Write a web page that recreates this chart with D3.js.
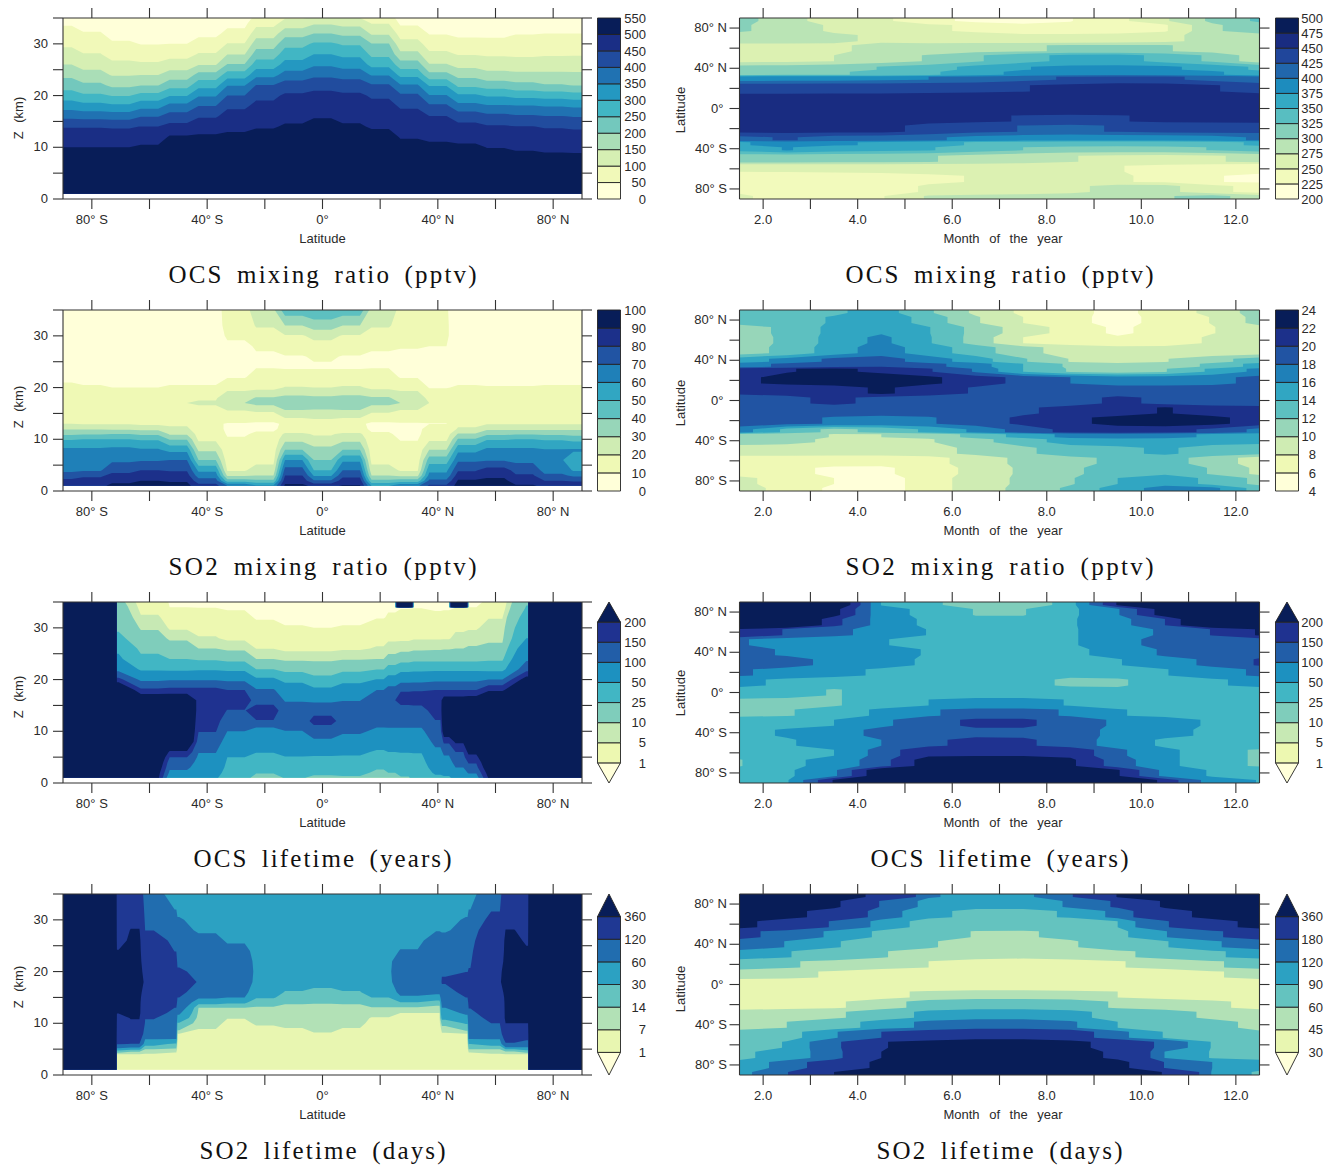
<!DOCTYPE html>
<html><head><meta charset="utf-8">
<script src="https://cdn.jsdelivr.net/npm/d3@7"></script>
<style>
body{margin:0;background:#fff}
text{font-family:"Liberation Sans",sans-serif;font-size:13px;fill:#2a2a2a}
.tick text{font-family:"Liberation Sans",sans-serif;font-size:13px;fill:#2a2a2a}
.tick line,.domain{stroke:#333;stroke-width:1.1}
.title{font-family:"Liberation Serif",serif;font-size:25px;fill:#111;word-spacing:5px}
</style></head><body><svg id="c" width="1332" height="1165"></svg>
<script>
const brewer=["#ffffd9","#edf8b1","#c7e9b4","#7fcdbb","#41b6c4","#1d91c0","#225ea8","#1f3290","#081d58"];

const levelsOcsZ=[0,50,100,150,200,250,300,350,400,450,500,550];
const levelsOcsM=[200,225,250,275,300,325,350,375,400,425,450,475,500];
const levelsSo2Z=[0,10,20,30,40,50,60,70,80,90,100];
const levelsSo2M=[4,6,8,10,12,14,16,18,20,22,24];
const levelsOcsLife=[1,5,10,25,50,100,150,200];
const levelsSo2LifeZ=[1,7,14,30,60,120,360];
const levelsSo2LifeM=[30,45,60,90,120,180,360];

const monthCols=[1.5,2.5,3.5,4.5,5.5,6.5,7.5,8.5,9.5,10.5,11.5,12.5];
const latRows21=[90,80,70,60,50,40,35,30,20,10,0,-10,-20,-30,-35,-40,-50,-60,-70,-80,-90];
const latRows19=[90,80,70,60,50,40,30,20,10,0,-10,-20,-30,-40,-50,-60,-70,-80,-90];

const latsOcsZ=[-90,-80,-70,-60,-50,-40,-30,-20,-10,0,10,20,30,40,50,60,70,80,90];
const zOcsZ=[1,8,10,12,14,16,18,20,22,24,26,28,30,32,34,35];
const ocsMixZ=[
[540,515,500,474,447,385,328,274,228,188,150,119,91,67,44,33],
[540,515,500,473,447,380,319,259,210,167,132,102,77,54,30,20],
[540,515,500,473,445,377,310,247,189,146,111,82,57,33,15,8],
[540,520,507,479,451,397,333,267,198,150,108,76,48,30,15,8],
[545,530,520,505,466,421,366,297,231,172,122,82,50,30,15,8],
[545,530,520,508,477,445,400,345,281,219,146,104,67,40,20,12],
[545,535,525,512,487,467,442,400,347,275,203,148,102,62,38,28],
[548,540,530,518,496,479,462,439,402,334,275,224,176,129,83,63],
[548,542,535,522,505,488,474,458,424,372,318,276,234,180,122,96],
[548,545,535,525,513,497,480,462,436,388,342,300,258,200,143,107],
[548,542,535,522,505,489,474,458,429,379,330,288,244,187,133,100],
[548,538,528,517,495,479,463,444,406,346,283,237,202,143,98,74],
[545,525,515,497,480,464,445,409,355,286,223,163,117,79,42,30],
[545,522,510,491,471,451,409,353,295,217,153,110,77,47,25,15],
[545,520,508,486,464,428,367,308,239,183,133,97,66,40,20,12],
[540,512,499,473,455,414,356,294,227,166,125,94,65,40,20,12],
[540,510,495,473,451,407,353,284,215,162,121,92,68,48,25,15],
[540,508,492,470,446,402,347,279,204,162,122,95,72,50,28,18],
[540,507,491,469,443,397,341,271,198,161,122,96,72,50,28,18]];

const ocsMixM=[
[310,285,262,255,235,217,212,224,243,272,305,330],
[305,285,272,262,254,246,232,230,235,247,296,314],
[284,284,278,272,265,260,257,257,259,268,285,290],
[268,268,272,280,285,292,298,302,303,302,290,285],
[268,270,275,288,302,322,340,358,360,342,320,285],
[310,312,316,326,338,358,374,380,381,380,366,345],
[322,323,324,327,345,365,382,392,396,392,380,360],
[390,392,393,396,400,408,418,428,433,430,418,405],
[438,438,440,441,443,445,449,456,460,460,452,440],
[458,458,459,459,460,462,465,470,472,472,468,462],
[462,462,462,462,462,464,466,470,472,472,468,463],
[458,458,458,457,456,453,449,446,449,453,456,457],
[457,457,456,456,444,432,424,420,427,432,433,432],
[418,428,415,412,405,392,385,382,382,384,390,404],
[372,385,378,372,362,346,338,335,335,335,340,355],
[358,377,362,358,352,338,325,318,316,318,326,340],
[312,310,308,306,302,292,284,276,270,268,273,280],
[250,251,252,253,254,256,258,256,251,244,234,228],
[235,236,238,242,247,251,253,253,252,246,226,222],
[247,236,235,243,252,258,263,268,285,283,258,240],
[254,240,238,248,278,283,285,288,292,298,308,287]];

const zSo2Z=[1,2,3,4,6,8,10,11,12,13,15,17,18,20,22,24,26,28,30,32,35];
const so2MixZ=[
[88,83,74,68,65,62,49,38,29,20,18,16,15,12,8,6,5,5,5,5,5],
[88,84,78,69,66,62,50,39,29,19,17,15,13,11,7,5,4,4,4,4,4],
[92,88,83,77,68,63,50,40,28,19,17,15,13,10,7,5,4,4,4,4,4],
[94,90,85,80,69,61,49,38,27,18,16,14,13,10,7,5,4,4,4,4,4],
[93,89,84,79,70,57,39,29,22,18,15,20,15,11,7,5,4,4,4,4,4],
[84,74,65,58,40,28,18,16,14,11,16,21,19,11,7,5,4,4,5,6,6],
[70,45,28,19,15,13,11,9,8,9.5,16,30,26,17,9.5,6,6,8,11.5,13,14],
[62,42,30,24,17,15,13,11.5,8.5,8.5,18,33,31,17,13,9.5,9,11,16,21,28],
[92,86,80,74,60,40,27,22,13,11.5,27,36,33,20.5,14,9,9.5,14,19,30,46],
[88,71,59,50,40,33,23,19,16,14,27,35,32,20,14,9,11,16,23,35,48],
[91,85,77,70,58,40,27,22,13,11.5,27,36,33,21,14,9,9.5,14,19,30,46],
[60,42,30,24,17,15,13,11,8.5,8.5,19,33,31,18,13,9.5,9,11,16,21,26],
[68,44,28,19,15,13,9.5,8,8,9.5,15,30,26,17,9.5,6,7,11,15,16,17],
[82,72,63,58,45,30,18,15,13,9.8,14,20,17,9.5,6,5,6,10,11.5,11.5,11],
[94,91,85,79,68,57,41,31,21,18,15,20,15,11,7,5,4,4,4,4,4],
[96,92,88,84,69,62,49,38,28,19,16,14,13,10.5,7,5,4,4,4,4,4],
[91,86,81,77,67,62,50,39,28,19,17,15,14,10.5,7,5,4,4,4,4,4],
[88,80,72,66,60.5,60.5,49,38,28,19,17,15,14,11,7,5,4,4,4,4,4],
[85,79,68,59,56,61,47,37,28,19,17,15,14,11,7,5,4,4,4,4,4]];

const so2MixM=[
[13,13.2,13.6,15,12.3,9.6,7.6,6.6,5.4,6.8,8.6,11],
[12.8,13.1,14.2,15.4,13.2,10.2,8,6.5,5.4,6.6,8.1,10.8],
[11,12.5,14.6,15.8,14.1,11.3,9,7.2,5.6,6.8,7.9,9.4],
[11,12.4,14.8,16.5,14.2,11.2,8,7,6.2,6.6,8.4,9.2],
[11,12.6,15,17,15,13,10.6,9.2,8.6,8.6,8.8,9],
[15,16.6,18.5,19,17,15,12.2,9.9,9.4,9.9,11.2,13],
[17,18.5,19.8,20,18.6,17,14,11.6,10.5,10.6,12.5,14.8],
[21,21.9,22.4,21.6,20.2,17.8,14,11.8,11,11.9,14.4,16.6],
[21.5,22.6,23,23.2,22.4,21,19.4,18,17,17,17.4,18.6],
[20.4,20.6,21,22.4,21,19.8,19,19,19,19,19,19],
[19,19.5,20.5,19.4,19,19,19,19.2,20.4,19.6,19,19],
[19,19,18.8,18.7,18.8,19,19.7,20.6,21,22.2,21,20.6],
[19,18.6,17.8,17.4,17.8,19,20.4,21.5,22.6,23,22.6,21],
[17,13.5,11.4,12.6,14.4,16.4,19,20.6,21,20.8,19.6,17.4],
[11.5,10.8,9.9,10,10.8,12.6,14.8,16.6,17,16.8,15.6,15],
[11,10.6,9.6,9.6,9.8,11.4,13,15,15.4,15.2,15,14.8],
[9,9,9,9,9.4,10.4,11.6,13,13.5,14.4,13,12.4],
[7,7,6.8,6.6,7.2,9,10.5,11.5,12.4,12.8,11.2,9],
[7,6.6,5.6,5.6,7,8.6,10.4,11.4,13.5,13.6,11.8,9.5],
[8.6,7,6,5,7,9,10.4,11.8,14,15.4,13.4,11.5],
[9,7.2,5.6,5,7,9,10.6,12.4,15,16.8,16.6,13]];

const latsOcsLife=[-90,-72,-71,-60,-50,-40,-30,-20,-10,0,10,20,24,28.5,33,40,43,47.5,52,60,71,72,90];
const zOcsLife=[1,2,3,4,5,6,8,10,12,14,16,18,20,22,24,26,28,30,32,33.9,34,35];
const ocsLifeZ=[
[999,999,999,999,999,999,999,999,999,999,999,999,999,999,999,999,999,999,999,999,999,999],
[999,999,999,999,999,999,999,999,999,999,999,999,999,999,999,999,999,999,999,999,999,999],
[300,300,300,300,300,300,300,300,300,300,300,300,165,85,55,45,30,22,18,15,15,13],
[210,220,240,260,280,300,300,300,300,300,260,160,90,45,29,21,14,9,5.6,3.5,3.4,2.5],
[60,90,110,125,150,190,300,300,300,300,260,165,95,42,25,15,8.5,4.2,2.8,1.1,1,0.8],
[55,65,75,85,92,102,125,152,165,175,185,165,95,45,22,10,5.3,3.7,2.2,1,0.95,0.8],
[30,36,41,45,50,58,77,100,125,148,170,150,90,42,19,8,4.2,2.9,1.6,0.8,0.8,0.6],
[20,26,32,38,44,51,60,72,148,170,135,105,55,25,10,4.9,3.2,1.7,0.8,0.6,0.6,0.5],
[26,33,39,44,49,57,76,99,118,125,96,68,42,19,8,4,2.8,1.1,0.7,0.5,0.5,0.4],
[22,28,35,42,48,58,92,120,170,130,92,56,30,17,8,4,2.6,1,0.7,0.5,0.5,0.4],
[23,29,35,41,47,56,80,107,125,130,98,68,40,20,9,4.4,2.6,1.1,0.7,0.5,0.5,0.4],
[15,22,27,33,39,46,68,91,115,130,135,100,51,24,10,5.4,3.6,2,0.9,0.7,0.7,0.5],
[18,25,31,37,43,50,70,92,115,135,150,120,62,33,13,6.5,4.3,2.8,1.2,0.8,0.8,0.7],
[24,28,33,38,44,51,70,92,115,138,160,148,78,40,17,7,4.3,3,1.7,0.9,800,800],
[28,31,35,39,44,52,71,92,115,135,165,148,80,42,19,8,4.6,3.2,1.9,0.95,0.95,0.8],
[42,55,65,75,84,90,112,130,148,168,185,150,88,42,19,8.5,4.5,3,1.2,0.9,0.9,0.8],
[46,58,70,82,96,108,160,250,280,280,230,150,88,42,19,9,4.5,3,1.3,0.9,0.9,0.85],
[60,80,100,118,135,150,210,280,300,300,230,150,88,42,19,10,6.5,4,2,1,800,800],
[75,105,135,155,185,215,290,300,300,300,235,150,88,42,19,11,7,4.5,2.2,1.1,1,0.9],
[205,225,250,270,285,300,300,300,300,300,280,190,100,38,22,12,8.5,6.5,4.8,2,1.9,1.1],
[300,300,300,300,300,300,300,300,300,300,300,300,230,130,92,72,50,42,33,26,26,23],
[999,999,999,999,999,999,999,999,999,999,999,999,999,999,999,999,999,999,999,999,999,999],
[999,999,999,999,999,999,999,999,999,999,999,999,999,999,999,999,999,999,999,999,999,999]];

const ocsLifeM=[
[400,380,280,48,28,18,17,30,205,300,350,400],
[400,380,220,65,40,24,24,40,95,230,350,400],
[400,300,165,80,40,30,30,45,80,150,300,400],
[198,145,110,85,48,36,36,46,70,110,152,205],
[105,80,70,52,40,33,33,43,85,115,125,130],
[115,95,70,60,48,32,32,42,62,108,130,135],
[120,125,80,62,45,32,30,32,48,70,115,155],
[108,80,60,45,35,32,30,28,32,48,75,110],
[60,42,35,33,33,30,29,23,23,32,45,60],
[32,30,24,30,32,33,33,30,28,32,35,35],
[23,22,24,30,50,62,62,48,38,33,30,30],
[22,24,30,57,95,115,115,95,52,42,34,30],
[33,35,50,90,130,160,160,125,92,65,45,38],
[35,55,75,115,128,140,140,125,85,65,40,35],
[33,45,70,100,140,165,160,125,80,42,35,32],
[30,36,50,120,195,198,198,190,110,60,28,24],
[24,40,65,130,230,300,300,210,125,60,28,24],
[30,42,90,250,350,350,350,350,205,85,45,30],
[32,44,205,300,400,400,400,400,300,180,75,48]];

const latsSo2Life=[-90,-72,-71,-65,-60,-51,-50,-40,-30,-20,-10,0,10,20,30,40,42,50,51,60,65,71,72,90];
const zSo2Life=[1,4,4.5,5,6,7,8,10,11,12,13,14,15,16,18,20,22,24,26,28,30,32,35];
const so2LifeZ=[
[999,999,999,999,999,999,999,999,999,999,999,999,999,999,999,999,999,999,999,999,999,999,999],
[999,999,999,999,999,999,999,999,999,999,999,999,999,999,999,999,999,999,999,999,999,999,999],
[3,6.8,18,45,125,160,200,280,320,365,400,400,400,400,400,400,400,370,280,240,220,200,180],
[3,6.6,14,35,118,150,200,340,365,400,400,400,400,400,400,400,400,400,400,370,300,250,200],
[3,6.5,9,14,38,62,78,108,123,145,170,200,250,300,345,320,280,230,170,118,100,88,75],
[3,6,7.5,12,26,61,72,88,96,105,120,150,170,185,190,180,150,118,95,85,75,60,45],
[2,3,3.5,4,5,6,7,28,50,65,85,100,120,135,165,130,105,95,85,75,64,50,40],
[1.5,2.5,3,3.2,3.6,4.5,5.8,8.5,10,12,14,38,65,95,115,105,95,85,72,55,48,42,38],
[1.5,2,2.2,2.5,3,3.5,4,5.8,7.2,9.5,13.5,33,60,70,85,90,85,72,55,50,45,40,35],
[1.5,2,2.2,2.4,2.8,3.3,4.5,7.7,8.5,10,12.5,21,32,38,48,50,48,46,44,42,40,38,35],
[1.5,2,2.2,2.4,2.8,3.6,5.5,8.2,9,10,12,15,22,29,38,42,43,42,41,40,38,37,35],
[1.5,2,2.2,2.4,2.8,3.6,6.8,8.6,9.5,10.5,12,14.5,19,25,37,42,43,42,41,40,38,37,35],
[1.5,2,2.2,2.4,2.8,3.6,5.5,8.2,9,10,12,15,22,29,38,42,43,42,41,40,38,37,35],
[1.5,2,2.2,2.4,2.8,3.3,4,5.6,6.6,9,13,21,30,38,50,52,50,46,44,42,40,38,35],
[1.5,2,2.2,2.4,2.8,3.2,3.6,4.8,5.8,7,12,28,55,70,85,90,85,62,50,45,42,38,35],
[1.5,2,2.2,2.4,2.8,3.2,3.6,4.8,5.8,7,10,20,45,70,95,105,100,90,80,58,48,42,38],
[1.5,2.5,3,3.2,3.6,4.5,6,17,36,48,60,72,85,100,125,115,100,90,78,55,48,42,38],
[2,3,3.5,4,5,6,7,32,50,65,85,100,120,135,165,118,105,95,85,75,64,50,40],
[3,6,7.5,14,30,61,72,88,96,105,122,135,150,165,180,125,110,100,90,80,70,60,45],
[3,6.5,9,14,38,62,75,120,135,155,175,200,240,300,350,340,300,260,220,180,140,115,95],
[3,6.6,13,30,110,150,210,360,400,400,400,400,400,400,400,400,400,400,400,365,290,240,190],
[3,6.8,18,40,95,130,190,360,400,400,400,400,400,400,400,400,400,380,340,300,260,220,180],
[999,999,999,999,999,999,999,999,999,999,999,999,999,999,999,999,999,999,999,999,999,999,999],
[999,999,999,999,999,999,999,999,999,999,999,999,999,999,999,999,999,999,999,999,999,999,999]];

const so2LifeM=[
[500,470,420,330,125,105,105,170,365,450,480,500],
[500,470,390,170,105,95,95,125,190,380,470,500],
[480,420,280,140,95,85,85,92,130,280,420,480],
[420,260,170,105,80,74,74,78,90,170,290,420],
[200,155,110,85,68,59,58,64,82,118,165,230],
[155,118,92,78,62,52,50,58,70,88,115,140],
[105,92,72,61,54,48,47,50,57,65,86,100],
[72,62,55,50,45,42,40,41,44,50,58,66],
[48,47,44,38,35,34,34,34,36,38,44,48],
[40,39,37,35,34,34,33,33,35,36,37,40],
[38,38,39,42,47,50,50,48,45,41,40,39],
[40,41,43,51,68,78,78,72,57,52,47,42],
[50,52,56,72,98,108,108,100,78,68,56,50],
[52,60,75,102,128,140,140,125,90,78,66,55],
[68,78,115,180,220,300,300,230,130,88,75,62],
[72,92,150,350,420,480,480,420,280,150,88,75],
[85,100,140,360,450,450,450,450,320,118,88,82],
[95,135,240,400,500,500,500,500,420,175,120,100],
[100,175,360,500,500,500,500,500,500,350,115,85]];

const panelsSpec=[
 {row:0,side:"z",title:"OCS mixing ratio (pptv)",tw:308,levels:levelsOcsZ,ends:false,xs:latsOcsZ,ys:zOcsZ,field:ocsMixZ,labelC:118},
 {row:0,side:"m",title:"OCS mixing ratio (pptv)",tw:308,levels:levelsOcsM,ends:false,xs:monthCols,ys:latRows21,field:ocsMixM,labelC:110,legendRight:1323},
 {row:1,side:"z",title:"SO2 mixing ratio (pptv)",tw:308,levels:levelsSo2Z,ends:false,xs:latsOcsZ,ys:zSo2Z,field:so2MixZ,labelC:115},
 {row:1,side:"m",title:"SO2 mixing ratio (pptv)",tw:308,levels:levelsSo2M,ends:false,xs:monthCols,ys:latRows21,field:so2MixM,labelC:111,legendRight:1316},
 {row:2,side:"z",title:"OCS lifetime (years)",tw:258,levels:levelsOcsLife,ends:true,xs:latsOcsLife,ys:zOcsLife,field:ocsLifeZ,labelC:113},
 {row:2,side:"m",title:"OCS lifetime (years)",tw:258,levels:levelsOcsLife,ends:true,xs:monthCols,ys:latRows19,field:ocsLifeM,labelC:109,legendRight:1323},
 {row:3,side:"z",title:"SO2 lifetime (days)",tw:246,levels:levelsSo2LifeZ,ends:true,xs:latsSo2Life,ys:zSo2Life,field:so2LifeZ,labelC:111},
 {row:3,side:"m",title:"SO2 lifetime (days)",tw:246,levels:levelsSo2LifeM,ends:true,xs:monthCols,ys:latRows19,field:so2LifeM,labelC:113,legendRight:1323}
];

const svg=d3.select("#c");
const ramp=d3.scaleLinear().domain(brewer.map((_,i)=>i/8)).range(brewer);
const latFmt=(d,pad)=>d===0?("0°"+(pad?"\u00A0":"")):`${Math.abs(d)}° ${d<0?"S":"N"}`;

// The model holds each latitude band flat over part of its cell, which gives the terraced contours.
function heldNodes(lats){
  const out=[],from=[];
  lats.forEach((v,i)=>{
    const gaps=[];
    if(i>0)gaps.push(Math.abs(v-lats[i-1]));
    if(i<lats.length-1)gaps.push(Math.abs(lats[i+1]-v));
    const h=0.3*d3.min(gaps);
    const dir=lats[lats.length-1]>lats[0]?1:-1;
    if(i>0){out.push(v-dir*h);from.push(i);}
    if(i<lats.length-1){out.push(v+dir*h);from.push(i);}
    if(i===0||i===lats.length-1){} 
  });
  return {out,from};
}

panelsSpec.forEach(p=>{
  const top=18+p.row*292, bottom=top+181;
  const left=p.side==="z"?63:739.5, right=p.side==="z"?582:1259.5;
  const g=svg.append("g");
  const x=p.side==="z"?d3.scaleLinear([-90,90],[left,right]):d3.scaleLinear([1.5,12.5],[left,right]);
  const y=p.side==="z"?d3.scaleLinear([0,35],[bottom,top]):d3.scaleLinear([-90,90],[bottom,top]);

  // field: latitude nodes are the columns of a "z" panel and the rows of a "m" panel
  const latAxis=p.side==="z"?p.xs:p.ys;
  const held=heldNodes(latAxis);
  // keep the outer edge of the plot covered
  held.out.unshift(latAxis[0]);held.from.unshift(0);
  held.out.push(latAxis[latAxis.length-1]);held.from.push(latAxis.length-1);
  const xsN=p.side==="z"?held.out:p.xs, ysN=p.side==="z"?p.ys:held.out;
  const n=xsN.length,m=ysN.length;
  const flat=new Array(n*m);
  for(let j=0;j<m;j++)for(let i=0;i<n;i++)
    flat[j*n+i]=p.side==="z"?p.field[held.from[i]][j]:p.field[held.from[j]][i];
  const ix=d3.scaleLinear().domain(d3.range(n)).range(xsN).clamp(true);
  const iy=d3.scaleLinear().domain(d3.range(m)).range(ysN).clamp(true);
  const path=d3.geoPath(d3.geoTransform({point(a,b){this.stream.point(x(ix(a-0.5)),y(iy(b-0.5)));}}));
  const nBands=p.ends?p.levels.length+1:p.levels.length-1;
  const bandColor=i=>ramp(i/(nBands-1));
  const thresholds=p.ends?p.levels:p.levels.slice(1,-1);
  g.append("rect").attr("x",left).attr("width",right-left)
    .attr("y",y(p.side==="z"?35:90)).attr("height",(p.side==="z"?y(p.ys[0]):bottom)-top).attr("fill",bandColor(0));
  const cs=d3.contours().size([n,m]).smooth(true).thresholds(thresholds)(flat);
  g.selectAll("path.f").data(cs).join("path").attr("class","f")
    .attr("d",path).attr("fill",(d,i)=>bandColor(i+1));

  // axes
  const xTicks=p.side==="z"?d3.range(-80,81,20):d3.range(2,13);
  const xFmt=p.side==="z"?(d=>d%40===0?latFmt(d):""):(d=>d%2===0?d.toFixed(1):"");
  const yTicks=p.side==="z"?d3.range(0,36,5):d3.range(-80,81,20);
  const yFmt=p.side==="z"?(d=>d%10===0?d:""):(d=>d%40===0?latFmt(d,true):"");
  g.append("g").attr("transform",`translate(0,${bottom})`).call(d3.axisBottom(x).tickValues(xTicks).tickSize(10).tickSizeOuter(0).tickPadding(6).tickFormat(xFmt).offset(0));
  g.append("g").attr("transform",`translate(0,${top})`).call(d3.axisTop(x).tickValues(xTicks).tickSize(10).tickSizeOuter(0).tickFormat("").offset(0));
  g.append("g").attr("transform",`translate(${left},0)`).call(d3.axisLeft(y).tickValues(yTicks).tickSize(10).tickSizeOuter(0).tickPadding(p.side==="z"?5:2.5).tickFormat(yFmt).offset(0));
  g.append("g").attr("transform",`translate(${right},0)`).call(d3.axisRight(y).tickValues(yTicks).tickSize(10).tickSizeOuter(0).tickFormat("").offset(0));

  // axis titles
  if(p.side==="z"){
    g.append("text").attr("x",322.5).attr("y",top+225).attr("text-anchor","middle").text("Latitude");
    g.append("text").attr("transform",`translate(23,${p.row*292+p.labelC}) rotate(-90)`).attr("text-anchor","middle").style("word-spacing","5px").text("Z (km)");
  }else{
    g.append("text").attr("x",1003).attr("y",top+225).attr("text-anchor","middle").style("word-spacing","6px").text("Month of the year");
    g.append("text").attr("transform",`translate(684.5,${p.row*292+p.labelC}) rotate(-90)`).attr("text-anchor","middle").text("Latitude");
  }
  g.append("text").attr("class","title").attr("x",(left+right)/2).attr("y",top+265).attr("text-anchor","middle")
    .attr("textLength",p.tw).attr("lengthAdjust","spacing").text(p.title);

  // colour bar
  const cbL=p.side==="z"?597.5:1275.5,cbW=23;
  const cb=d3.scaleLinear([0,nBands],[bottom,top]);
  d3.range(nBands).forEach(i=>{
    const y0=cb(i),y1=cb(i+1),c=bandColor(i);
    let shape;
    if(p.ends&&i===0) shape=`M${cbL},${y1}L${cbL+cbW},${y1}L${cbL+cbW/2},${y0}Z`;
    else if(p.ends&&i===nBands-1) shape=`M${cbL},${y0}L${cbL+cbW},${y0}L${cbL+cbW/2},${y1}Z`;
    else shape=`M${cbL},${y0}L${cbL+cbW},${y0}L${cbL+cbW},${y1}L${cbL},${y1}Z`;
    g.append("path").attr("d",shape).attr("fill",c).attr("stroke","#222").attr("stroke-width",0.9);
  });
  const lr=p.side==="z"?646:p.legendRight;
  p.levels.forEach((l,i)=>{
    const k=p.ends?i+1:i;
    g.append("text").attr("x",lr).attr("y",cb(k)).attr("dy","0.36em").attr("text-anchor","end").text(l);
  });
});
</script></body></html>
